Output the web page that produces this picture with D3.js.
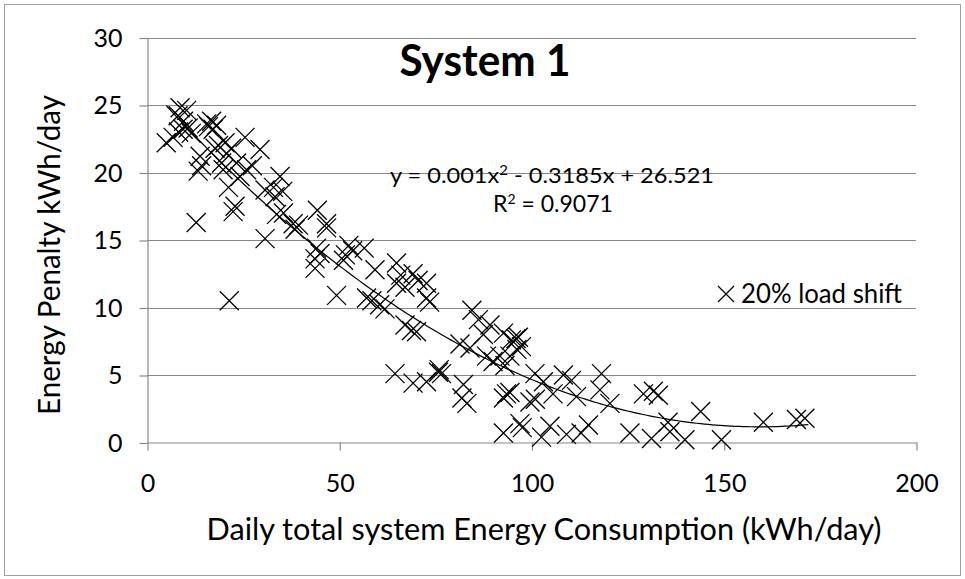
<!DOCTYPE html>
<html>
<head>
<meta charset="utf-8">
<script src="https://cdn.jsdelivr.net/npm/d3@7"></script>
<style>
  body { margin: 0; background: #fff; }
  text { font-family: Lato, sans-serif; fill: #000; }
</style>
</head>
<body>
<script>
// values (kWh/day)
let consumption = [5, 6.8, 8.2, 9.4, 10.7, 11.5, 8.6, 10.3, 8.1, 9.5,
  13.3, 13.8, 12.8, 14.2, 15.5, 16.8, 18.1, 17.2, 16.0,
  18.6, 20.3, 20.7, 22.0, 17.7, 25.5, 29.4,
  19.8, 23.3, 24.2, 25.9, 27.4, 21.2, 19.4, 22.9, 22.4, 21.4,
  30.7, 32.9, 34.6, 33.3, 35.3, 30.7, 33.7, 35.5, 38.0, 39.4, 38.5,
  44.3, 46.7, 46.7, 44.1, 43.7, 43.7, 45.0,
  49.3, 51.1, 52.5, 53.5, 51.6, 56.5,
  59.3, 57.1, 58.5, 61.9, 60.5,
  64.9, 64.9, 67.1, 69.2, 70.5, 72.7, 72.7, 73.5, 66.0,
  67.1, 68.8, 70.1,
  64.5, 69.2, 72.7, 75.8, 76.6, 76.0, 82.3, 81.9, 83.2,
  84.5, 86.2, 89.2, 87.5, 81.4, 84.0, 88.3, 91.8, 90.0,
  92.7, 94.8, 96.6, 96.0, 97.4, 96.2, 94.4, 93.1,
  93.5, 94.4, 92.7, 99.6, 100.9, 103.1, 105.6, 108.3, 110.4, 111.7, 118.2, 117.8, 120.4, 101.0,
  92.7, 97.0, 97.6, 102.6, 104.8, 109.1, 112.9, 114.8, 125.6, 131.2, 136.0, 139.9, 135.5,
  129.1, 131.7, 133.0,
  144.0, 149.4, 160.3, 168.9, 171.1];

let penalty = [22.2, 22.6, 23.0, 23.2, 23.3, 22.9, 24.8, 24.6, 24.2, 23.8,
  20.1, 21.2, 16.3, 20.5, 23.6, 23.8, 23.5, 23.2, 23.4,
  22.0, 22.2, 21.4, 21.8, 21.8, 22.6, 21.7,
  20.2, 20.7, 19.7, 20.2, 20.5, 18.9, 20.7, 17.5, 17.1, 10.5,
  18.7, 18.9, 19.7, 18.2, 18.6, 15.1, 16.9, 17.0, 16.2, 16.1, 15.8,
  17.2, 16.2, 15.9, 14.4, 13.6, 12.9, 14.0,
  10.9, 13.5, 14.6, 14.2, 13.9, 14.4,
  12.8, 10.7, 10.5, 9.9, 10.2,
  13.3, 11.8, 11.5, 12.5, 12.0, 11.8, 10.7, 10.4, 12.4,
  8.7, 8.3, 8.2,
  5.1, 4.4, 4.5, 5.2, 5.1, 5.4, 4.3, 3.3, 2.9,
  9.8, 9.1, 8.7, 8.0, 7.3, 7.0, 6.4, 6.4, 6.0,
  8.1, 7.6, 7.8, 7.7, 7.1, 6.9, 6.4, 5.7,
  3.6, 3.7, 3.3, 3.0, 5.1, 4.5, 3.6, 5.0, 4.6, 3.4, 5.1, 3.9, 2.9, 3.2,
  0.7, 1.4, 1.1, 0.4, 1.2, 0.6, 0.7, 1.3, 0.7, 0.3, 0.8, 0.2, 1.5,
  3.6, 3.8, 3.5,
  2.3, 0.2, 1.5, 1.7, 1.8];

// polynomial trendline as printed on the chart
let trendCoef = [26.521, -0.3185, 0.001];
let trendRange = [5, 172];

let xTicks = [0, 50, 100, 150, 200];
let yTicks = [0, 5, 10, 15, 20, 25, 30];

let W = 965, H = 579;

let svg = d3.select('body').append('svg')
  .attr('width', W)
  .attr('height', H);

// outer chart border
svg.append('rect')
  .attr('x', 4.5).attr('y', 4.5)
  .attr('width', 956).attr('height', 571)
  .attr('fill', 'none')
  .attr('stroke', '#a0a0a0');

let x = d3.scaleLinear().domain([0, 200]).range([147, 916]);
let y = d3.scaleLinear().domain([0, 30]).range([442.5, 37.5]);

// gridlines
svg.append('g')
  .selectAll('line')
  .data(yTicks.filter(d => d > 0))
  .enter()
  .append('line')
  .attr('x1', x(0)).attr('x2', x(200))
  .attr('y1', d => Math.round(y(d)) + 0.5)
  .attr('y2', d => Math.round(y(d)) + 0.5)
  .attr('stroke', '#888')
  .attr('stroke-width', 1.2);

// y axis
let yAxis = svg.append('g')
  .attr('transform', 'translate(147.5,0.5)')
  .call(d3.axisLeft(y).tickValues(yTicks).tickSize(8).tickSizeOuter(0).tickPadding(17));

// x axis
let xAxis = svg.append('g')
  .attr('transform', 'translate(0.5,' + 442.5 + ')')
  .call(d3.axisBottom(x).tickValues(xTicks).tickSize(8).tickSizeOuter(0).tickPadding(24));

[yAxis, xAxis].forEach(function(g) {
  g.selectAll('path, line').attr('stroke', '#888').attr('stroke-width', 1.2);
  g.selectAll('text')
    .style('font-size', '25px')
    .style('font-family', 'Lato, sans-serif')
    .attr('fill', '#000');
});

// trendline
let trendX = d3.range(trendRange[0], trendRange[1] + 0.5, 1);
let poly = v => trendCoef[0] + trendCoef[1] * v + trendCoef[2] * v * v;
svg.append('path')
  .datum(trendX)
  .attr('fill', 'none')
  .attr('stroke', '#000')
  .attr('stroke-width', 1.2)
  .attr('d', d3.line().x(d => x(d)).y(d => y(poly(d))));

// x markers
function cross(s) {
  return 'M' + (-s) + ',' + (-s) + 'L' + s + ',' + s + 'M' + (-s) + ',' + s + 'L' + s + ',' + (-s);
}

svg.append('g')
  .selectAll('path')
  .data(consumption)
  .enter()
  .append('path')
  .attr('transform', (d, i) => 'translate(' + x(d) + ',' + y(penalty[i]) + ')')
  .attr('d', cross(9.5))
  .attr('fill', 'none')
  .attr('stroke', '#000')
  .attr('stroke-width', 1.3);

// title
svg.append('text')
  .attr('x', 485).attr('y', 76)
  .style('text-anchor', 'middle')
  .style('font-size', '44px')
  .style('font-weight', '700')
  .attr('textLength', 171)
  .attr('lengthAdjust', 'spacingAndGlyphs')
  .text('System 1');

// equation
let eq = svg.append('text')
  .attr('x', 552).attr('y', 183)
  .style('text-anchor', 'middle')
  .style('font-size', '22px')
  .attr('textLength', 324)
  .attr('lengthAdjust', 'spacingAndGlyphs');
eq.append('tspan').text('y = 0.001x');
eq.append('tspan').attr('dy', -8).style('font-size', '14px').text('2');
eq.append('tspan').attr('dy', 8).text(' - 0.3185x + 26.521');

let r2 = svg.append('text')
  .attr('x', 553).attr('y', 212)
  .style('text-anchor', 'middle')
  .style('font-size', '23px');
r2.append('tspan').text('R');
r2.append('tspan').attr('dy', -8).style('font-size', '14px').text('2');
r2.append('tspan').attr('dy', 8).text(' = 0.9071');

// legend
svg.append('path')
  .attr('transform', 'translate(726,294)')
  .attr('d', cross(8))
  .attr('fill', 'none')
  .attr('stroke', '#000')
  .attr('stroke-width', 1.2);

svg.append('text')
  .attr('x', 741).attr('y', 303)
  .style('font-size', '27px')
  .attr('textLength', 161)
  .attr('lengthAdjust', 'spacingAndGlyphs')
  .text('20% load shift');

// axis titles
svg.append('text')
  .attr('x', 544).attr('y', 540)
  .style('text-anchor', 'middle')
  .style('font-size', '30px')
  .attr('textLength', 675)
  .attr('lengthAdjust', 'spacingAndGlyphs')
  .text('Daily total system Energy Consumption (kWh/day)');

svg.append('text')
  .attr('transform', 'translate(60,255)rotate(-90)')
  .style('text-anchor', 'middle')
  .style('font-size', '30px')
  .attr('textLength', 320)
  .attr('lengthAdjust', 'spacingAndGlyphs')
  .text('Energy Penalty kWh/day');
</script>
</body>
</html>
